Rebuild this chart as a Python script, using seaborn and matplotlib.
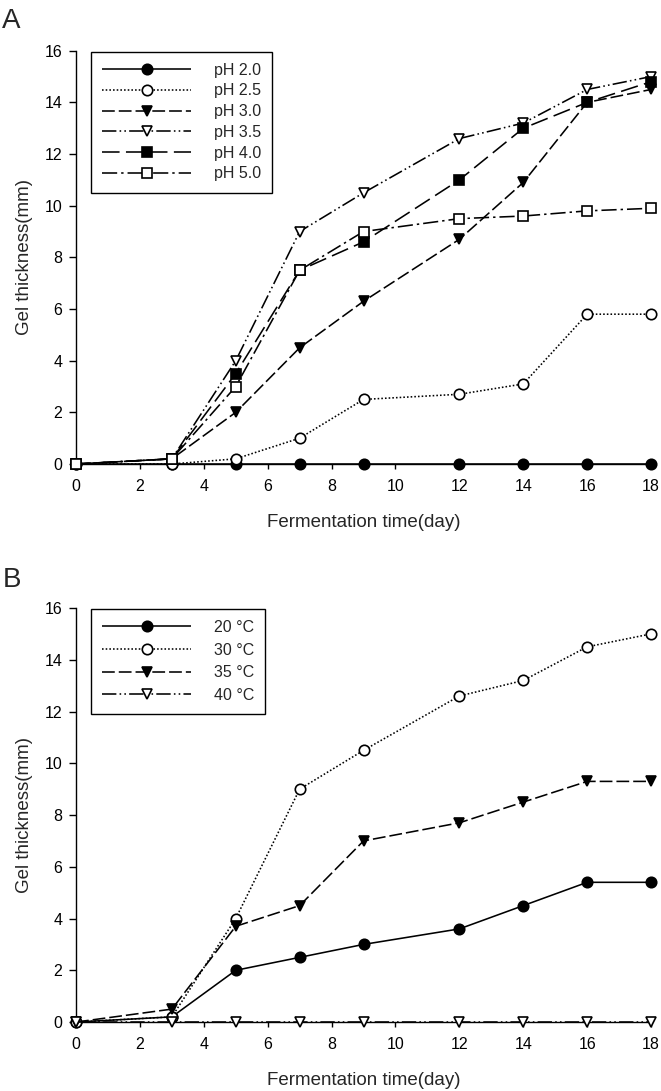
import numpy as np
import pandas as pd
import seaborn as sns
from matplotlib import pyplot as plt

days = [0, 3, 5, 7, 9, 12, 14, 16, 18]

# panel A: pH series
ph_labels = ["pH 2.0", "pH 2.5", "pH 3.0", "pH 3.5", "pH 4.0", "pH 5.0"]
ph_20 = [0, 0, 0, 0, 0, 0, 0, 0, 0]
ph_25 = [0, 0, 0.2, 1.0, 2.5, 2.7, 3.1, 5.8, 5.8]
ph_30 = [0, 0.2, 2.0, 4.5, 6.3, 8.7, 10.9, 14.0, 14.5]
ph_35 = [0, 0.2, 4.0, 9.0, 10.5, 12.6, 13.2, 14.5, 15.0]
ph_40 = [0, 0.2, 3.5, 7.5, 8.6, 11.0, 13.0, 14.0, 14.8]
ph_50 = [0, 0.2, 3.0, 7.5, 9.0, 9.5, 9.6, 9.8, 9.9]

# panel B: temperature series
temp_labels = ["20 \u00b0C", "30 \u00b0C", "35 \u00b0C", "40 \u00b0C"]
t_20 = [0, 0.2, 2.0, 2.5, 3.0, 3.6, 4.5, 5.4, 5.4]
t_30 = [0, 0.2, 4.0, 9.0, 10.5, 12.6, 13.2, 14.5, 15.0]
t_35 = [0, 0.5, 3.7, 4.5, 7.0, 7.7, 8.5, 9.3, 9.3]
t_40 = [0, 0, 0, 0, 0, 0, 0, 0, 0]

sns.set_style("ticks")
plt.rcParams["font.family"] = ["Liberation Sans", "DejaVu Sans"]

# line styles: (marker, filled?, markersize, dash pattern)
solid = (0, ())
dotted = (0, (1, 1.3))
dashed = (0, (8, 2.5))
dashdotdot = (0, (9, 2, 1, 2, 1, 2))
longdash = (0, (11, 4))
dashdot = (0, (9.5, 2.5, 1.5, 2.5))

ph_styles = [("o", True, 7.5, solid), ("o", False, 7.5, dotted),
             ("v", True, 7.5, dashed), ("v", False, 7.5, dashdotdot),
             ("s", True, 6.5, longdash), ("s", False, 6.5, dashdot)]
temp_styles = [("o", True, 7.5, solid), ("o", False, 7.5, dotted),
               ("v", True, 7.5, dashed), ("v", False, 7.5, dashdotdot)]


def draw_panel(ax, series, labels, styles, spacing):
    for vals, lab, (mk, filled, ms, ls) in zip(series, labels, styles):
        df = pd.DataFrame({"day": days, "gel": vals})
        sns.lineplot(data=df, x="day", y="gel", ax=ax, color="k", lw=1.15,
                     linestyle=ls, marker=mk, markersize=ms,
                     markerfacecolor="k" if filled else "white",
                     markeredgecolor="k", markeredgewidth=1.2,
                     clip_on=False, zorder=5, label=lab)
    ax.set_xlim(0, 18)
    ax.set_ylim(0, 16)
    ax.set_xticks(np.arange(0, 19, 2))
    ax.set_yticks(np.arange(0, 17, 2))
    sns.despine(ax=ax)
    for s in ["left", "bottom"]:
        ax.spines[s].set_linewidth(1.0)
        ax.spines[s].set_color("k")
    ax.tick_params(axis="y", direction="out", length=5, width=1, pad=5,
                   labelsize=11.5, colors="k")
    ax.tick_params(axis="x", direction="out", length=3.5, width=1, pad=7,
                   labelsize=11.5, colors="k")
    ax.set_xlabel("Fermentation time(day)", fontsize=13.5, labelpad=15)
    ax.set_ylabel("Gel thickness(mm)", fontsize=13.5, labelpad=8)
    leg = ax.legend(loc="upper left", bbox_to_anchor=(0.0256, 0.998),
                    borderaxespad=0, fancybox=False, framealpha=1,
                    edgecolor="k", fontsize=11.5, handlelength=5.6,
                    handletextpad=1.4, borderpad=0.7, labelspacing=spacing,
                    numpoints=1)
    leg.get_frame().set_linewidth(1.0)


fig = plt.figure(figsize=(6.61, 10.91), dpi=100)
ax_a = fig.add_axes([0.115, 0.5747, 0.870, 0.3788])
ax_b = fig.add_axes([0.115, 0.0632, 0.870, 0.3795])

draw_panel(ax_a, [ph_20, ph_25, ph_30, ph_35, ph_40, ph_50], ph_labels, ph_styles, 0.36)
draw_panel(ax_b, [t_20, t_30, t_35, t_40], temp_labels, temp_styles, 0.48)

fig.text(0.003, 1 - 28 / 1091, "A", fontsize=20, va="baseline")
fig.text(0.004, 1 - 586.7 / 1091, "B", fontsize=20, va="baseline")

fig.savefig("out.png", dpi=100)
